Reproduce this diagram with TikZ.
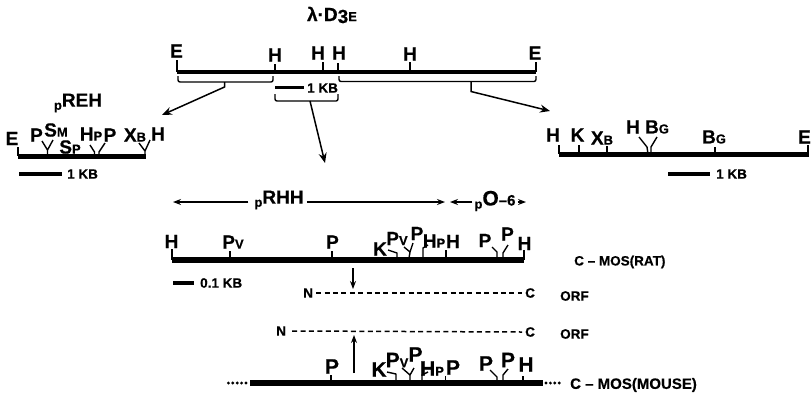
\documentclass[tikz,border=0pt]{standalone}
\usepackage{fontspec}
\setmainfont{Liberation Sans}[BoldFont={Liberation Sans Bold},BoldFeatures={FakeBold=0.5}]
\usetikzlibrary{arrows.meta,calc}
\newcommand{\sm}[1]{{\fontsize{13}{13}\selectfont #1}}
\newcommand{\pre}{\raisebox{-3pt}{\fontsize{13}{13}\selectfont p}}
\newcommand{\lab}[4][lbl]{\node[#1] (#3) at (#2) {#4}; }
% \site{x}{ytop}{ybar}: plain tick
\newcommand{\site}[3]{\coordinate (ta) at (#1,#2); \coordinate (tb) at (#1,#3); \draw[tick] (ta) -- (tb);}
\tikzset{
  lbl/.style={font=\fontsize{19}{19}\selectfont\bfseries, inner sep=0pt, anchor=center},
  big/.style={font=\fontsize{21}{21}\selectfont\bfseries, inner sep=0pt, anchor=center},
  txt/.style={font=\fontsize{13.5}{13.5}\selectfont\bfseries, inner sep=0pt, anchor=west},
  tick/.style={line width=1.4pt, line join=round},
  bracket/.style={line width=1.4pt, rounded corners=2pt},
  bar/.style={line width=#1, line cap=butt},
  arr/.style={line width=1.5pt, -{Stealth[length=10pt,width=8pt]}},
  arrs/.style={line width=1.2pt, -{Stealth[length=8pt,width=6pt]}},
  orf/.style={line width=1.5pt, dash pattern=on 5pt off 3.4pt},
  dots/.style={line width=3.2pt, line cap=round, dash pattern=on 0pt off 4.4pt},
}
\begin{document}
\begin{tikzpicture}[x=1pt,y=-1pt]
\useasboundingbox (0,0) rectangle (811,392);
% ---- lambda clone
\node[lbl] (title) at (332,15) {λ·D\raisebox{-2pt}{3}\sm{E}};
\coordinate (tl) at (177,72); \coordinate (tr) at (536,72);
\draw[bar=3.6pt] (tl) -- (tr);
\lab{176.5,51}{t1}{E} \site{177}{60}{72}
\lab{275,55}{t2}{H} \site{275}{64}{72}
\lab{318,53}{t3}{H} \site{323}{62}{72}
\lab{339,53}{t4}{H} \site{338}{63}{72}
\lab{410,54}{t5}{H} \site{410}{62}{72}
\lab{535,53}{t6}{E} \site{536}{62}{72}
\coordinate (b1m) at (224.5,82);
\coordinate (b2m) at (471,81.5);
\coordinate (b3m) at (310,101);
\draw[bracket] (178,76) -- (178,82) -- (273,82) -- (273,76);
\draw[bracket] (339,76) -- (339,81.5) -- (536,81.5) -- (536,76);
\draw[bracket] (275,94) -- (275,101) -- (338,101) -- (338,94);
\draw[bar=3.6pt] (275,87.5) -- (304,87.5);
\node[txt] (kb0) at (307,88) {1 KB};
\coordinate (a1e) at (162,115);
\coordinate (a2e) at (550,111);
\coordinate (a3e) at (325,163);
\draw[arr] (b1m) -- ++(0,5) -- (a1e);
\draw[arr] (b2m) -- ++(0,10) -- (a2e);
\draw[arr] (b3m) -- (a3e);
% ---- pREH
\node[lbl] (preh) at (78,103) {\pre REH};
\draw[bar=5pt] (18,156) -- (146,156);
\lab{12,138.5}{l1}{E} \site{18}{147}{156}
\lab{36.5,135}{l2}{P}
\lab{56,130}{l3}{S\sm{M}}
\lab{70,147}{l4}{S\sm{P}}
\lab{91,134}{l5}{H\sm{P}}
\lab{110,135}{l6}{P}
\lab{135,135}{l7}{X\sm{B}}
\lab{158,134}{l8}{H}
\draw[tick] (42,141) -- (47.5,150) -- (53,140) (47.5,150) -- (47.5,156);
\draw[tick] (90,145) -- (94.5,152) -- (94.5,156);
\draw[tick] (105,143) -- (99,152) -- (99,156);
\draw[tick] (139,143) -- (145,151) -- (150,140) (145,151) -- (145,156);
\draw[bar=3.6pt] (19,174) -- (62,174);
\node[txt] (kb1) at (67,174) {1 KB};
% ---- right fragment
\draw[bar=4.4pt] (559,154.5) -- (809,154.5);
\lab{553,135}{r1}{H} \site{559}{145}{154}
\lab{577.5,135}{r2}{K} \site{579}{145}{154}
\lab{602,138}{r3}{X\sm{B}} \site{607}{146}{154}
\lab{633,127}{r4}{H}
\lab{657,127}{r5}{B\sm{G}}
\draw[tick] (639,137) -- (647,147) -- (648,154);
\draw[tick] (657,137) -- (651,147) -- (651,154);
\lab{714,137}{r6}{B\sm{G}} \site{715}{147}{154}
\lab{804.5,137}{r7}{E} \site{808}{145}{154}
\draw[bar=3.6pt] (668,174) -- (710,174);
\node[txt] (kb2) at (716,174) {1 KB};
% ---- pRHH / pO-6
\node[lbl] (prhh) at (279,200) {\pre RHH};
\node[lbl] (po6) at (495,201) {\pre\fontsize{21}{21}\selectfont O\fontsize{15}{15}\selectfont --6};
\coordinate (h1) at (173,202); \coordinate (h2) at (445,202);
\coordinate (h3) at (450,202); \coordinate (h4) at (526,202);
\draw[arrs] ($(prhh.west)+(-6,2)$) -- (h1);
\draw[arrs] ($(prhh.east)+(3,2)$) -- (h2);
\draw[arrs] ($(po6.west)+(-2,1)$) -- (h3);
\draw[arrs] ($(po6.east)+(2,1)$) -- (h4);
% ---- rat
\draw[bar=5.4pt] (172,260) -- (524,260);
\lab{171.5,241.5}{m1}{H} \site{172}{249}{260}
\lab{233,242}{m2}{P\sm{V}} \site{230}{251}{260}
\lab{332.5,242}{m3}{P} \site{332}{251}{260}
\lab{380,249}{m4}{K}
\lab{397,238.5}{m5}{P\sm{V}}
\lab{417,233.5}{m6}{P}
\lab{434,241}{m7}{H\sm{P}}
\lab{453,241.5}{m8}{H} \site{446}{250}{260}
\lab{485,240.5}{m9}{P}
\lab{507.5,234}{m10}{P}
\lab{524.5,243.5}{m11}{H} \site{524}{250}{260}
\draw[tick] (388,250) -- (397,253) -- (397,259);
\draw[tick] (404,247) -- (410,252) -- (413,243) (410,252) -- (409,258);
\draw[tick] (423,258) -- (423,248) -- (428,245);
\draw[tick] (492,247) -- (497,252) -- (497,258);
\draw[tick] (508,245) -- (503,253) -- (503,258);
\draw[bar=4pt] (173,283) -- (194,283);
\node[txt] (kb3) at (200,283) {0.1 KB};
\node[txt] (rat) at (574,262) {C -- MOS(RAT)};
% ---- ORF rat
\coordinate (d1) at (353,268); \coordinate (d2) at (353,289);
\draw[arrs] (d1) -- (d2);
\node[txt] (n1) at (303,293) {N};
\node[txt] (c1) at (525,293) {C};
\draw[orf] ($(n1.east)+(3,0)$) -- ($(c1.west)+(-3,0)$);
\node[txt] (o1) at (560,296) {ORF};
% ---- ORF mouse
\node[txt] (n2) at (276,331) {N};
\node[txt] (c2) at (525,332) {C};
\draw[orf] ($(n2.east)+(6,0)$) -- ($(c2.west)+(-3,0)$);
\node[txt] (o2) at (560,334) {ORF};
\coordinate (u1) at (354,373); \coordinate (u2) at (354,335);
\draw[arrs] (u1) -- (u2);
% ---- mouse
\draw[bar=6pt] (250,383) -- (543,383);
\coordinate (ml) at (246,383); \coordinate (mle) at (228,383);
\coordinate (mr) at (546,383); \coordinate (mre) at (563,383);
\draw[dots] (ml) -- (mle);
\draw[dots] (mr) -- (mre);
\lab[big]{332,366.5}{u1l}{P} \site{331}{375}{383}
\lab[big]{379,369.5}{u2l}{K}
\lab[big]{397,360}{u3l}{P\sm{V}}
\lab[big]{415.5,354.5}{u4l}{P}
\lab[big]{432,368.5}{u5l}{H\sm{P}}
\lab[big]{453,367.5}{u6l}{P} \site{445.5}{376}{383}
\lab[big]{486,363.5}{u7l}{P}
\lab[big]{508,360}{u8l}{P}
\lab[big]{526,364.5}{u9l}{H} \site{523}{376}{383}
\draw[tick] (387,372) -- (396,374) -- (396,381);
\draw[tick] (402,368) -- (410,375) -- (414,368) (410,375) -- (410,381);
\draw[tick] (422,381) -- (422,375) -- (428,372);
\draw[tick] (490,370) -- (497,377) -- (497,381);
\draw[tick] (508,369) -- (503,375) -- (503,381);
\node[txt, font=\fontsize{15}{15}\selectfont\bfseries] (mouse) at (570,385) {C -- MOS(MOUSE)};
\end{tikzpicture}
\end{document}
